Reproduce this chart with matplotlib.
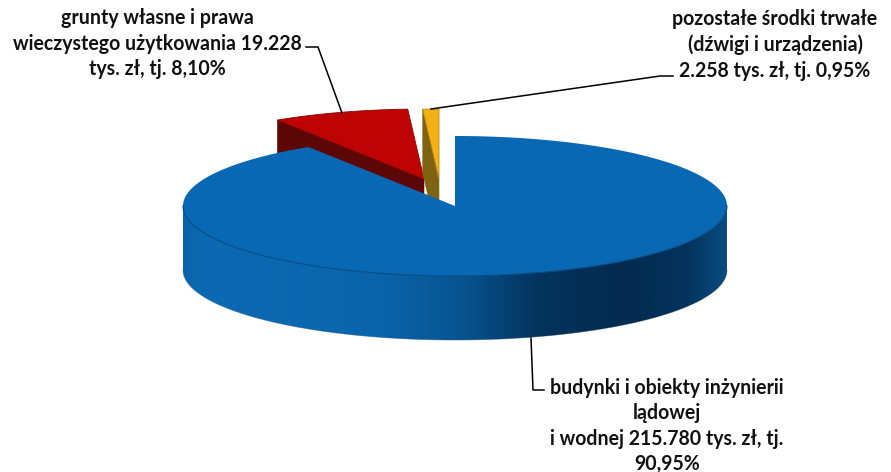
# -*- coding: utf-8 -*-
"""3D-style exploded pie of fixed assets, drawn by hand since matplotlib has no 3D pie."""
import matplotlib
matplotlib.use("Agg")
import matplotlib.pyplot as plt
from matplotlib.colors import LinearSegmentedColormap
from matplotlib.patches import Polygon
import numpy as np

plt.rcParams["font.family"] = ["Lato", "DejaVu Sans"]

# data (tys. zl), clockwise from 12 o'clock
names = ["budynki", "grunty", "pozostale"]
values = [215780, 19228, 2258]
labels = [
    "budynki i obiekty inżynierii\nlądowej\ni wodnej 215.780 tys. zł, tj.\n90,95%",
    "grunty własne i prawa\nwieczystego użytkowania 19.228\ntys. zł, tj. 8,10%",
    "pozostałe środki trwałe\n(dźwigi i urządzenia)\n2.258 tys. zł, tj. 0,95%",
]

RX, RY, DEPTH = 272, 70, 64
centers = {"budynki": (455, 206), "grunty": (424, 179), "pozostale": (439, 179)}
top_col = {"budynki": "#0868b4", "grunty": "#bd0303", "pozostale": "#f4b015"}
wall_col = {"grunty": "#5c0606", "pozostale": "#7d6312"}

fracs = np.array(values) / sum(values)
edges = np.concatenate([[0], np.cumsum(fracs)]) * 2 * np.pi


def rim(c, a0, a1, n=200):
    t = np.linspace(a0, a1, n)
    return np.column_stack([c[0] + RX * np.sin(t), c[1] - RY * np.cos(t)])


fig = plt.figure(figsize=(8.91, 4.72), dpi=100)
ax = fig.add_axes([0, 0, 1, 1])
ax.set_xlim(0, 891)
ax.set_ylim(472, 0)
ax.axis("off")

# back slices first, the big one covers their lower part
for i in [1, 2]:
    k = names[i]
    c = np.array(centers[k], float)
    a0, a1 = edges[i], edges[i + 1]
    p0 = rim(c, a0, a0, 1)[0]
    # cut face on the left side of the slice is the one you can see
    wall = np.array([p0, c, c + [0, DEPTH], p0 + [0, DEPTH]])
    ax.add_patch(Polygon(wall, closed=True, fc=wall_col[k], ec=wall_col[k], lw=0.4, zorder=2 + i))
    top = np.vstack([[c], rim(c, a0, a1, 40)])
    ax.add_patch(Polygon(top, closed=True, fc=top_col[k], ec="#8a0505" if i == 1 else "#b98a10",
                         lw=0.6, zorder=3 + i))

# big slice: outer wall with a horizontal shading
k = names[0]
c = np.array(centers[k], float)
a0, a1 = edges[0], edges[1]
front = rim(c, np.pi / 2, 3 * np.pi / 2, 300)
wall = np.vstack([front, front[::-1] + [0, DEPTH]])
stops = [(0.0, "#0a62a8"), (0.03, "#0c6ab2"), (0.36, "#0a64ab"), (0.52, "#07538f"),
         (0.60, "#053f70"), (0.66, "#04335c"), (0.82, "#032b50"), (0.93, "#03345e"),
         (1.0, "#0a4c80")]
cmap = LinearSegmentedColormap.from_list("wall", stops)
grad = np.linspace(0, 1, 512).reshape(1, -1)
im = ax.imshow(grad, cmap=cmap, extent=(c[0] - RX, c[0] + RX, c[1] + RY + DEPTH + 2, c[1] - 2),
               aspect="auto", zorder=6)
clip = Polygon(wall, closed=True, transform=ax.transData)
im.set_clip_path(clip)
ax.set_xlim(0, 891)
ax.set_ylim(472, 0)

top = np.vstack([[c], rim(c, a0, a1, 400)])
ax.add_patch(Polygon(top, closed=True, fc=top_col[k], ec="none", zorder=7))
ax.plot(front[:, 0], front[:, 1], color="#064a82", lw=0.8, zorder=8)
bottom = front + [0, DEPTH]
ax.plot(bottom[:, 0], bottom[:, 1], color="#9aa3ab", lw=0.6, zorder=5)

# leader lines
leaders = [([531, 533, 544], [338, 390, 390]),
           ([342, 318, 306], [113, 47, 47]),
           ([431, 660, 673], [109, 76, 76])]
for xs, ys in leaders:
    ax.plot(xs, ys, color="black", lw=1.1, zorder=9)

# labels
fs = 14.05
ax.text(667, 426, labels[0], ha="center", va="center", fontsize=fs, fontweight="bold",
        linespacing=1.32, color="#111111", zorder=10)
ax.text(157, 43.5, labels[1], ha="center", va="center", fontsize=fs, fontweight="bold",
        linespacing=1.32, color="#111111", zorder=10)
ax.text(775, 45, labels[2], ha="center", va="center", fontsize=fs, fontweight="bold",
        linespacing=1.32, color="#111111", zorder=10)

fig.savefig("out.png", dpi=100, facecolor="white")
